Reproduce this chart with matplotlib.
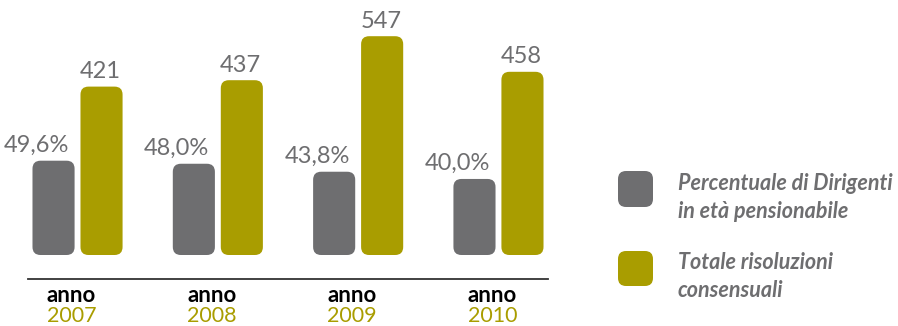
import matplotlib
matplotlib.use("Agg")
import matplotlib.pyplot as plt
from matplotlib.patches import FancyBboxPatch
from matplotlib.transforms import blended_transform_factory, offset_copy

years = ["2007", "2008", "2009", "2010"]
perc_values = [49.6, 48.0, 43.8, 40.0]
perc_labels = ["49,6%", "48,0%", "43,8%", "40,0%"]
tot_values = [421, 437, 547, 458]
tot_labels = ["421", "437", "547", "458"]
legend_labels = ["Percentuale di Dirigenti\nin età pensionabile", "Totale risoluzioni\nconsensuali"]

GREY = "#6e6e70"
OLIVE = "#a99d00"
TEXT_GREY = "#6e6e70"
FONT = ["Lato", "DejaVu Sans"]

W, H = 898, 326
fig = plt.figure(figsize=(W / 100, H / 100), dpi=100)

def fx(px):
    return px / W

def fy(py):
    return 1 - py / H

# axes spans x 28..548 px, y 0..279 px (from top)
ax = fig.add_axes([fx(28), fy(279), fx(548) - fx(28), 279 / H])
ax2 = ax.twinx()
for a in (ax, ax2):
    a.set_axis_off()
    a.set_xlim(-0.353, 3.353)

# olive: 2.5 counts per px; grey: 0.526 % per px; baseline 24 px above axis line
ax.set_ylim(-24 * 2.5, 255 * 2.5)
ax2.set_ylim(-24 * 0.526, 255 * 0.526)

x = list(range(len(years)))
bw = 0.3
off = 0.171
xg = [i - off for i in x]
xo = [i + off for i in x]

bars_g = ax2.bar(xg, perc_values, width=bw, color=GREY)
bars_o = ax.bar(xo, tot_values, width=bw, color=OLIVE)

px_per_xunit = 520 / (3.353 + 0.353)
r_px = 8

def roundify(a, bars, color, units_per_px):
    for b in bars:
        b.set_visible(False)
        aspect = units_per_px * px_per_xunit
        p = FancyBboxPatch((b.get_x(), b.get_y()), b.get_width(), b.get_height(),
                           boxstyle=f"round,pad=0,rounding_size={r_px / px_per_xunit}",
                           mutation_aspect=aspect, facecolor=color, edgecolor="none")
        a.add_patch(p)

roundify(ax2, bars_g, GREY, 0.526)
roundify(ax, bars_o, OLIVE, 2.5)

# value labels
for b, lab in zip(bars_g, perc_labels):
    ax2.annotate(lab, (b.get_x() + b.get_width(), b.get_height()),
                 xytext=(-4, 6.5), textcoords="offset points", ha="right", va="baseline",
                 fontsize=17, color=TEXT_GREY, family=FONT, fontweight="normal")
for b, lab in zip(bars_o, tot_labels):
    ax.annotate(lab, (b.get_x() + b.get_width() / 2, b.get_height()),
                xytext=(-1, 6), textcoords="offset points", ha="center", va="baseline",
                fontsize=17, color=TEXT_GREY, family=FONT, fontweight="normal")

# axis line
fig.add_artist(plt.Line2D([fx(28), fx(548)], [fy(279), fy(279)], color="#333333", lw=1.3))

# x labels
tr = blended_transform_factory(ax.transData, fig.transFigure)
tr = offset_copy(tr, fig=fig, x=-6, y=0, units="dots")
for i, yr in zip(x, years):
    fig.text(i, fy(302), "anno", transform=tr, ha="center", va="baseline",
             fontsize=16, fontweight="bold", color="black", family=FONT)
    fig.text(i, fy(325.5), yr, transform=tr, ha="center", va="bottom",
             fontsize=15.5, fontweight="normal", color=OLIVE, family=FONT)

# legend
for (y0, y1), col, lab, tb in [((171, 207), GREY, legend_labels[0], 190),
                               ((251, 286), OLIVE, legend_labels[1], 269)]:
    p = FancyBboxPatch((fx(618), fy(y1)), fx(653) - fx(618), (y1 - y0) / H,
                       boxstyle=f"round,pad=0,rounding_size={8 / W}",
                       mutation_aspect=W / H, transform=fig.transFigure,
                       facecolor=col, edgecolor="none")
    fig.add_artist(p)
    l1, l2 = lab.split("\n")
    fig.text(fx(678), fy(tb), l1, ha="left", va="baseline", fontsize=15.5,
             style="italic", fontweight="bold", color=TEXT_GREY, family=FONT)
    fig.text(fx(678), fy(tb + 28), l2, ha="left", va="baseline", fontsize=15.5,
             style="italic", fontweight="bold", color=TEXT_GREY, family=FONT)

fig.savefig("out.png", dpi=100)
